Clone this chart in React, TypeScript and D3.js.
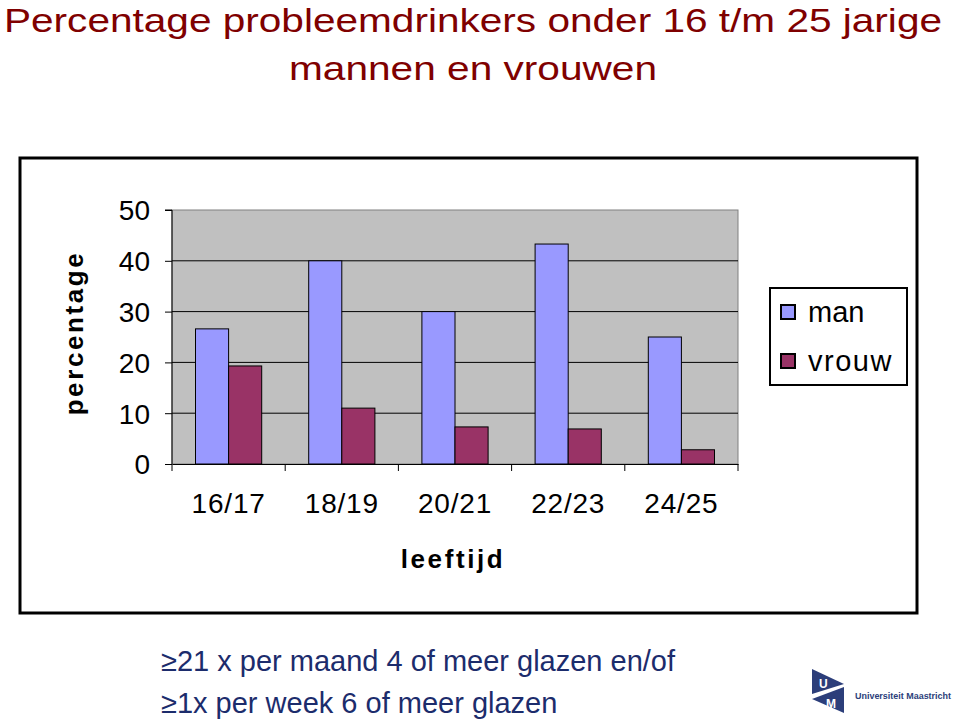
import { useEffect, useRef } from "react";
import * as d3 from "d3";

const categories = ["16/17", "18/19", "20/21", "22/23", "24/25"];
const manValues = [26.6, 40, 30, 43.3, 25];
const vrouwValues = [19.3, 11, 7.3, 6.9, 2.8];
const yTicks = [0, 10, 20, 30, 40, 50];
const seriesNames = ["man", "vrouw"];
const seriesColors = ["#9999ff", "#993366"];

const W = 960;
const H = 722;
const FONT = "Arial, 'Liberation Sans', Helvetica, sans-serif";

export default function App() {
  const svgRef = useRef<SVGSVGElement>(null);

  useEffect(() => {
    if (!svgRef.current) return;
    const svg = d3.select(svgRef.current);
    svg.selectAll("*").remove();

    // Title (condensed look, like Arial Narrow)
    const titleStyle = (t: d3.Selection<SVGTextElement, unknown, null, undefined>) =>
      t.attr("fill", "#7f0000").attr("font-family", FONT).attr("font-size", "34px")
        .attr("lengthAdjust", "spacingAndGlyphs");
    titleStyle(svg.append("text"))
      .attr("x", 4).attr("y", 32).attr("textLength", 938)
      .text("Percentage probleemdrinkers onder 16 t/m 25 jarige");
    titleStyle(svg.append("text"))
      .attr("x", 289).attr("y", 80).attr("textLength", 368)
      .text("mannen en vrouwen");

    // Outer frame
    svg.append("rect")
      .attr("x", 20).attr("y", 158).attr("width", 897).attr("height", 455)
      .attr("fill", "#fff").attr("stroke", "#000").attr("stroke-width", 3);

    const plot = { left: 172, right: 738, top: 210, bottom: 464 };

    const x = d3.scaleBand<string>()
      .domain(categories)
      .range([plot.left, plot.right]);
    const inner = d3.scaleBand<string>()
      .domain(seriesNames)
      .range([0, x.bandwidth()])
      .paddingInner(0)
      .paddingOuter(0.71);
    const y = d3.scaleLinear().domain([0, 50]).range([plot.bottom, plot.top]);

    // Plot background
    svg.append("rect")
      .attr("x", plot.left).attr("y", plot.top)
      .attr("width", plot.right - plot.left).attr("height", plot.bottom - plot.top)
      .attr("fill", "#c0c0c0").attr("stroke", "#808080").attr("stroke-width", 1);

    // Gridlines
    svg.append("g")
      .selectAll("line")
      .data(yTicks.filter(t => t > 0 && t < 50))
      .join("line")
      .attr("x1", plot.left).attr("x2", plot.right)
      .attr("y1", d => y(d)).attr("y2", d => y(d))
      .attr("stroke", "#000").attr("stroke-width", 1);

    // Bars
    const data = categories.map((c, i) => ({ c, vals: [manValues[i], vrouwValues[i]] }));
    const groups = svg.append("g")
      .selectAll("g")
      .data(data)
      .join("g")
      .attr("transform", d => `translate(${x(d.c)},0)`);
    groups.selectAll("rect")
      .data(d => d.vals.map((v, k) => ({ v, k })))
      .join("rect")
      .attr("x", d => inner(seriesNames[d.k])!)
      .attr("width", inner.bandwidth())
      .attr("y", d => y(d.v))
      .attr("height", d => y(0) - y(d.v))
      .attr("fill", d => seriesColors[d.k])
      .attr("stroke", "#000").attr("stroke-width", 1);

    // Y axis
    const yAxis = svg.append("g")
      .attr("transform", `translate(${plot.left},0)`)
      .call(d3.axisLeft(y).tickValues(yTicks).tickSize(7).tickPadding(15));
    yAxis.select(".domain").attr("stroke", "#000").attr("d", `M-7,${plot.top}H0V${plot.bottom}`);
    yAxis.selectAll("text")
      .attr("font-family", FONT).attr("font-size", "28px").attr("fill", "#000")
      .attr("dy", "0.35em");

    // X axis
    const xAxis = svg.append("g")
      .attr("transform", `translate(0,${plot.bottom})`)
      .call(d3.axisBottom(x).tickSize(0).tickPadding(29));
    xAxis.select(".domain").attr("stroke", "#000");
    xAxis.selectAll(".tick line").remove();
    xAxis.selectAll("text")
      .attr("font-family", FONT).attr("font-size", "28px").attr("fill", "#000")
      .attr("letter-spacing", "0.8px");
    svg.append("g")
      .selectAll("line")
      .data(categories.map(c => x(c)!).concat([plot.right]))
      .join("line")
      .attr("x1", d => d).attr("x2", d => d)
      .attr("y1", plot.bottom).attr("y2", plot.bottom + 7)
      .attr("stroke", "#000");

    // Axis titles
    svg.append("text")
      .attr("x", 453).attr("y", 568)
      .attr("text-anchor", "middle")
      .attr("font-family", FONT).attr("font-size", "26px").attr("font-weight", "bold")
      .attr("letter-spacing", "2.6px")
      .text("leeftijd");
    svg.append("text")
      .attr("transform", "translate(83,333) rotate(-90)")
      .attr("text-anchor", "middle")
      .attr("font-family", FONT).attr("font-size", "26px").attr("font-weight", "bold")
      .attr("letter-spacing", "2.6px")
      .text("percentage");

    // Legend
    const legend = svg.append("g");
    legend.append("rect")
      .attr("x", 770).attr("y", 288).attr("width", 137).attr("height", 97)
      .attr("fill", "#fff").attr("stroke", "#000").attr("stroke-width", 2);
    seriesNames.forEach((name, k) => {
      const ly = 312 + k * 49;
      legend.append("rect")
        .attr("x", 781).attr("y", ly - 7).attr("width", 14).attr("height", 14)
        .attr("fill", seriesColors[k]).attr("stroke", "#000").attr("stroke-width", 2);
      legend.append("text")
        .attr("x", 808).attr("y", ly).attr("dy", "0.35em")
        .attr("font-family", FONT).attr("font-size", "29px")
        .attr("letter-spacing", k === 1 ? "1.5px" : "0px")
        .text(name);
    });

    // Footnote
    const foot = svg.append("text")
      .attr("font-family", FONT).attr("font-size", "29px").attr("fill", "#1c2c6c");
    foot.append("tspan").attr("x", 161).attr("y", 671).text("≥21 x per maand 4 of meer glazen en/of");
    foot.append("tspan").attr("x", 161).attr("y", 713).text("≥1x per week 6 of meer glazen");

    // Logo
    const logo = svg.append("g").attr("transform", "translate(810,667)");
    logo.append("path").attr("d", "M2,2 L34,17 L2,27 Z").attr("fill", "#2c3e7a");
    logo.append("path").attr("d", "M34,20 L2,32 L34,46 Z").attr("fill", "#2c3e7a");
    logo.append("text").attr("x", 9).attr("y", 21).attr("fill", "#fff")
      .attr("font-family", FONT).attr("font-size", "12px").attr("font-weight", "bold").text("U");
    logo.append("text").attr("x", 16).attr("y", 41).attr("fill", "#fff")
      .attr("font-family", FONT).attr("font-size", "12px").attr("font-weight", "bold").text("M");
    logo.append("text").attr("x", 45).attr("y", 32).attr("fill", "#2c3e7a")
      .attr("font-family", FONT).attr("font-size", "8.5px").attr("font-weight", "bold")
      .attr("textLength", 96).attr("lengthAdjust", "spacingAndGlyphs")
      .text("Universiteit Maastricht");
  }, []);

  return (
    <svg
      ref={svgRef}
      width={W}
      height={H}
      style={{ position: "absolute", left: 0, top: 0, display: "block", background: "#fff" }}
    />
  );
}
